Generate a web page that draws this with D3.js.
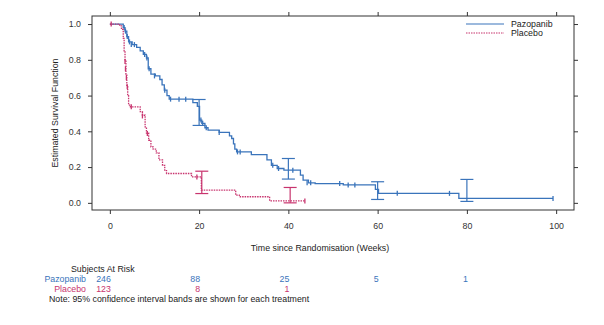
<!DOCTYPE html>
<html>
<head>
<meta charset="utf-8">
<script src="https://cdn.jsdelivr.net/npm/d3@7"></script>
<style>
  body { margin: 0; background: #fff; }
  text { font-family: "Liberation Sans", Arial, sans-serif; }
</style>
</head>
<body>
<script>
// Kaplan-Meier step data (time in weeks, survival after the step)
const pazTime = [0, 3.0, 3.4, 3.8, 4.2, 5.0, 6.0, 6.8, 7.5, 8.2, 8.6, 9.2, 10.2, 11.2, 11.7, 12.2, 12.8, 13.3,
  18.6, 19.6, 20.1, 20.6, 21.3, 22.0, 24.5, 26.8, 27.3, 27.7, 28.0, 28.4, 31.7, 35.2, 36.2, 37.5, 39.0,
  42.7, 43.3, 44.5, 46.0, 52.3, 59.5, 60.2, 78.2, 99.3];
const pazSurv = [1.0, 0.98, 0.96, 0.93, 0.90, 0.885, 0.87, 0.85, 0.83, 0.81, 0.75, 0.72, 0.71, 0.69, 0.66, 0.63, 0.60, 0.58,
  0.56, 0.54, 0.463, 0.445, 0.42, 0.407, 0.394, 0.375, 0.36, 0.33, 0.30, 0.285, 0.27, 0.24, 0.21, 0.192, 0.183,
  0.155, 0.127, 0.112, 0.108, 0.100, 0.075, 0.053, 0.025, 0.025];

const plaTime = [0, 2.2, 2.6, 3.0, 3.2, 3.4, 3.6, 3.8, 4.0, 4.2, 4.6, 6.8, 7.3, 7.9, 8.2, 8.7, 9.2, 9.7, 10.4,
  11.0, 11.8, 12.3, 12.7, 18.3, 20.5, 28.2, 29.0, 35.8, 43.7];
const plaSurv = [1.0, 0.99, 0.97, 0.92, 0.85, 0.80, 0.72, 0.65, 0.60, 0.547, 0.537, 0.51, 0.49, 0.425, 0.39, 0.35, 0.313, 0.30, 0.28,
  0.24, 0.21, 0.18, 0.164, 0.145, 0.071, 0.043, 0.034, 0.011, 0.011];

// censored observations (time, survival)
const pazCensT = [3.2, 3.5, 3.9, 4.4, 4.8, 5.5, 7.8, 8.3, 8.8, 10.0, 12.3, 13.6, 15.5, 17.0, 20.4, 20.8, 21.6, 24.5,
  28.6, 29.2, 36.5, 37.8, 41.0, 44.2, 45.0, 51.5, 53.4, 54.9, 64.4, 76.1, 99.3];
const pazCensS = [0.98, 0.96, 0.93, 0.90, 0.885, 0.885, 0.83, 0.81, 0.75, 0.71, 0.63, 0.58, 0.58, 0.58, 0.463, 0.445, 0.42, 0.394,
  0.285, 0.285, 0.21, 0.192, 0.183, 0.112, 0.112, 0.108, 0.100, 0.100, 0.053, 0.053, 0.025];
const plaCensT = [0.3, 3.4, 3.5, 3.7, 3.9, 4.8, 7.3, 8.4, 19.5, 43.7];
const plaCensS = [1.0, 0.79, 0.75, 0.70, 0.65, 0.537, 0.486, 0.388, 0.145, 0.011];

// 95% confidence intervals at landmark times
const pazCiT = [20, 40, 60, 80];
const pazCiLo = [0.433, 0.133, 0.019, 0.008];
const pazCiHi = [0.578, 0.248, 0.118, 0.131];
const plaCiT = [20.6, 40.4];
const plaCiLo = [0.052, 0.0];
const plaCiHi = [0.177, 0.086];

// numbers at risk
const riskWeeks = [0, 20, 40, 60, 80];
const pazRisk = [246, 88, 25, 5, 1];
const plaRisk = [123, 8, 1];

const xTicks = [0, 20, 40, 60, 80, 100];
const yTicks = [0, 0.2, 0.4, 0.6, 0.8, 1.0];

const blue = "#3a74bb";
const red = "#c8346e";
const ink = "#333";
const fs = "8.8px";

const svg = d3.select("body").append("svg").attr("width", 604).attr("height", 325);

const x = d3.scaleLinear().domain([-4, 104]).range([92, 574]);
const y = d3.scaleLinear().domain([-0.04, 1.045]).range([210, 16]);

// axes on all four sides
function styleAxis(g) {
  g.select(".domain").remove();
  g.selectAll("line").attr("stroke", ink);
  g.selectAll("text").attr("fill", ink).style("font-size", fs).style("font-family", "Liberation Sans, Arial, sans-serif");
}
svg.append("g").attr("transform", "translate(0,210)")
  .call(d3.axisBottom(x).tickValues(xTicks).tickSize(4).tickPadding(9).tickFormat(d3.format("d")))
  .call(styleAxis);
svg.append("g").attr("transform", "translate(0,16)")
  .call(d3.axisTop(x).tickValues(xTicks).tickSize(4).tickFormat(""))
  .call(styleAxis);
svg.append("g").attr("transform", "translate(92,0)")
  .call(d3.axisLeft(y).tickValues(yTicks).tickSize(4).tickPadding(7).tickFormat(d3.format(".1f")))
  .call(styleAxis);
svg.append("g").attr("transform", "translate(574,0)")
  .call(d3.axisRight(y).tickValues(yTicks).tickSize(4).tickFormat(""))
  .call(styleAxis);

svg.append("rect").attr("x", 92).attr("y", 16).attr("width", 482).attr("height", 194)
  .attr("fill", "none").attr("stroke", ink).attr("stroke-width", 1);

// axis titles
svg.append("text").attr("x", 320).attr("y", 251).attr("text-anchor", "middle")
  .attr("fill", "#222").style("font-size", fs).text("Time since Randomisation (Weeks)");
svg.append("text").attr("transform", "translate(58,113) rotate(-90)").attr("text-anchor", "middle")
  .attr("fill", "#222").style("font-size", fs).text("Estimated Survival Function");

const step = d3.line().x(d => x(d[0])).y(d => y(d[1])).curve(d3.curveStepAfter);

function drawSeries(times, surv, cT, cS, ciT, ciLo, ciHi, color, dash) {
  const pts = times.map((t, i) => [t, surv[i]]);
  svg.append("path").datum(pts).attr("d", step).attr("fill", "none")
    .attr("stroke", color).attr("stroke-width", 1.3).attr("stroke-dasharray", dash);

  // censor marks
  svg.append("g").selectAll("line").data(cT.map((t, i) => [t, cS[i]])).join("line")
    .attr("x1", d => x(d[0])).attr("x2", d => x(d[0]))
    .attr("y1", d => y(d[1]) - 2.5).attr("y2", d => y(d[1]) + 2.5)
    .attr("stroke", color).attr("stroke-width", 1.3);

  // confidence interval bars
  const ci = svg.append("g").attr("stroke", color).attr("stroke-width", 1.2);
  ciT.forEach((t, i) => {
    const cx = x(t);
    ci.append("line").attr("x1", cx).attr("x2", cx).attr("y1", y(ciLo[i])).attr("y2", y(ciHi[i]));
    ci.append("line").attr("x1", cx - 6.5).attr("x2", cx + 6.5).attr("y1", y(ciLo[i])).attr("y2", y(ciLo[i]));
    ci.append("line").attr("x1", cx - 6.5).attr("x2", cx + 6.5).attr("y1", y(ciHi[i])).attr("y2", y(ciHi[i]));
  });
}

drawSeries(pazTime, pazSurv, pazCensT, pazCensS, pazCiT, pazCiLo, pazCiHi, blue, null);
drawSeries(plaTime, plaSurv, plaCensT, plaCensS, plaCiT, plaCiLo, plaCiHi, red, "1.5,1");

// legend
const legend = svg.append("g");
legend.append("line").attr("x1", 466).attr("x2", 504).attr("y1", 24).attr("y2", 24)
  .attr("stroke", blue).attr("stroke-width", 1.2);
legend.append("line").attr("x1", 466).attr("x2", 504).attr("y1", 33).attr("y2", 33)
  .attr("stroke", red).attr("stroke-width", 1.2).attr("stroke-dasharray", "1.5,1");
legend.append("text").attr("x", 511).attr("y", 27).attr("fill", "#222").style("font-size", fs).text("Pazopanib");
legend.append("text").attr("x", 511).attr("y", 36).attr("fill", "#222").style("font-size", fs).text("Placebo");

// subjects at risk table
svg.append("text").attr("x", 71).attr("y", 272).attr("fill", "#222").style("font-size", fs).text("Subjects At Risk");
svg.append("text").attr("x", 86).attr("y", 282).attr("text-anchor", "end").attr("fill", blue).style("font-size", fs).text("Pazopanib");
svg.append("text").attr("x", 86).attr("y", 292).attr("text-anchor", "end").attr("fill", red).style("font-size", fs).text("Placebo");

svg.append("g").selectAll("text").data(pazRisk).join("text")
  .attr("x", (d, i) => x(riskWeeks[i]) + 1).attr("y", 282).attr("text-anchor", "end")
  .attr("fill", blue).style("font-size", fs).text(d => d);
svg.append("g").selectAll("text").data(plaRisk).join("text")
  .attr("x", (d, i) => x(riskWeeks[i]) + 1).attr("y", 292).attr("text-anchor", "end")
  .attr("fill", red).style("font-size", fs).text(d => d);

svg.append("text").attr("x", 49).attr("y", 302).attr("fill", "#222").style("font-size", fs)
  .text("Note: 95% confidence interval bands are shown for each treatment");
</script>
</body>
</html>
